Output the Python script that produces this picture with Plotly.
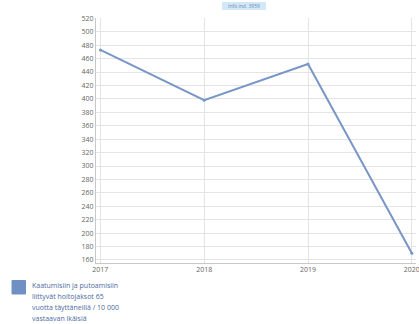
import plotly.graph_objects as go

years = [2017, 2018, 2019, 2020]
values = [473, 398, 452, 170]
series_lines = ["Kaatumisiin ja putoamisiin", "liittyvät hoitojaksot 65",
                "vuotta täyttäneillä / 10 000", "vastaavan ikäisiä"]
badge_text = "Info ind. 3959"
y_ticks = list(range(160, 521, 20))

line_color = "#7896c6"
L, R, T, B = 96, 3, 18, 61
W, H = 419, 324
PW, PH = W - L - R, H - T - B

def px(x):
    return (x - L) / PW

def py(y):
    return (H - B - y) / PH

fig = go.Figure()
fig.add_trace(go.Scatter(
    x=years, y=values, mode="lines+markers",
    line=dict(color=line_color, width=2),
    marker=dict(size=3, color=line_color),
    showlegend=False,
))

fig.update_layout(
    width=W, height=H,
    margin=dict(l=L, r=R, t=T, b=B, autoexpand=False),
    paper_bgcolor="white", plot_bgcolor="white",
    font=dict(family="Open Sans", size=7, color="#666666"),
    xaxis=dict(
        range=[2016.958, 2020.04], automargin=False,
        tickvals=years, ticktext=[str(y) for y in years],
        showgrid=True, gridcolor="#e4e4e4", gridwidth=1,
        showline=True, linecolor="#c8c8c8", linewidth=1,
        zeroline=False, ticks="", tickfont=dict(size=7, color="#666666"),
        ticklabeloverflow="allow",
    ),
    yaxis=dict(
        range=[155.5, 520.5], automargin=False,
        tickvals=y_ticks,
        showgrid=True, gridcolor="#e4e4e4", gridwidth=1,
        showline=True, linecolor="#c8c8c8", linewidth=1,
        zeroline=False, ticks="", tickfont=dict(size=7, color="#666666"),
    ),
)

# badge (rounded pill)
x0, x1, y0, y1 = px(222.5), px(265.5), py(9.5), py(2.5)
fig.add_shape(type="rect", xref="paper", yref="paper",
              x0=x0, x1=x1, y0=y0, y1=y1,
              fillcolor="#d3e8f7", line=dict(width=1, color="#d3e8f7"), layer="above")
fig.add_annotation(text=badge_text, xref="paper", yref="paper",
                   x=px(244), y=py(6), showarrow=False,
                   font=dict(size=5, color="#6a8db0"), xanchor="center", yanchor="middle")

# legend
fig.add_shape(type="rect", xref="paper", yref="paper",
              x0=px(12), x1=px(25.5), y0=py(294), y1=py(280.5),
              fillcolor="#7090c4", line=dict(width=1, color="#7090c4"), layer="above")
for i, t in enumerate(series_lines):
    fig.add_annotation(text=t, xref="paper", yref="paper",
                       x=px(29.5), y=py(285 + 11 * i), showarrow=False,
                       xanchor="left", yanchor="middle", align="left",
                       font=dict(size=7, color="#4a6aa0"))

fig.write_html("out.html", config={"displayModeBar": False},
               post_script="document.body.style.margin='0';document.body.style.overflow='hidden';")
